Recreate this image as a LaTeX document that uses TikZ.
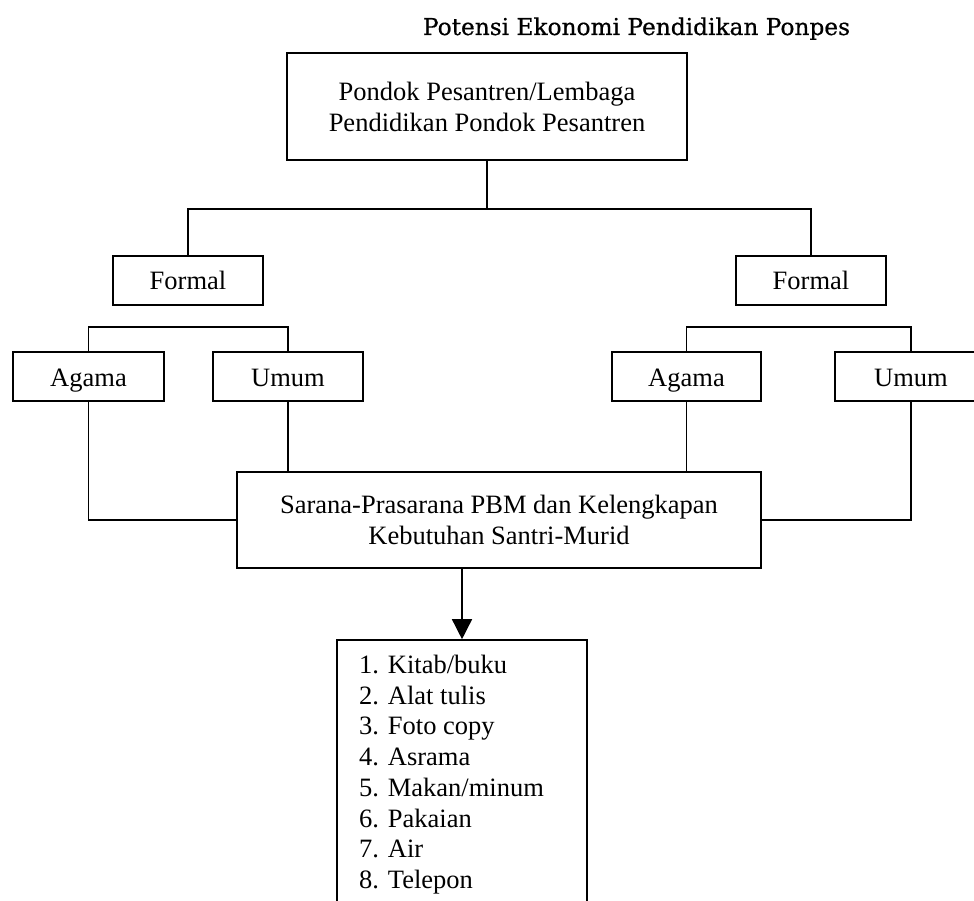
\documentclass[tikz,border=0pt]{standalone}
\usepackage{fontspec}
\setmainfont{Liberation Serif}
\newfontfamily\titlefont[FakeBold=0.6]{DejaVu Serif}
\usetikzlibrary{arrows.meta}
\begin{document}
\begin{tikzpicture}[x=1pt,y=-1pt,
  box/.style={draw,line width=1.6pt,inner sep=0pt,align=center,
    font=\fontsize{26.5}{31}\selectfont},
  one/.style={text height=21pt,text depth=2pt},
  conn/.style={line width=1.5pt}]
\useasboundingbox (0,0) rectangle (974,901);
\node[anchor=base,inner sep=0pt] (title) at (636.5,35)
  {\resizebox{427pt}{!}{\titlefont Potensi Ekonomi Pendidikan Ponpes}};
\node[box,minimum width=400pt,minimum height=107pt] (top) at (487,106.5)
  {Pondok Pesantren/Lembaga\\Pendidikan Pondok Pesantren};
\node[box,one,minimum width=150pt,minimum height=49pt] (fL) at (188,280.5) {Formal};
\node[box,one,minimum width=150pt,minimum height=49pt] (fR) at (811,280.5) {Formal};
\node[box,one,minimum width=151pt,minimum height=49pt] (aL) at (88.5,376.5) {Agama};
\node[box,one,minimum width=150pt,minimum height=49pt] (uL) at (288,376.5) {Umum};
\node[box,one,minimum width=149pt,minimum height=49pt] (aR) at (686.5,376.5) {Agama};
\node[box,one,minimum width=152pt,minimum height=49pt] (uR) at (911,376.5) {Umum};
\node[box,minimum width=524pt,minimum height=96pt] (sar) at (499,520)
  {Sarana-Prasarana PBM dan Kelengkapan\\Kebutuhan Santri-Murid};
\node[box,minimum width=250pt,minimum height=320pt] (lst) at (462,800) {};
\node[anchor=north west,inner sep=0pt,align=left,
  font=\fontsize{26.5}{30.7}\selectfont] (items) at (359,655)
  {1. Kitab/buku\\2. Alat tulis\\3. Foto copy\\4. Asrama\\5. Makan/minum\\6. Pakaian\\7. Air\\8. Telepon};
% connectors
\draw[conn] (top.south) -- ++(0,48) coordinate (j1);
\draw[conn] (fL.north) |- (j1) -| (fR.north);
\draw[conn] (aL.north) -- ++(0,-24) -| (uL.north);
\draw[conn] (aR.north) -- ++(0,-24) -| (uR.north);
\draw[conn] (aL.south) |- (sar.west);
\draw[conn] (uR.south) |- (sar.east);
\draw[conn] (uL.south) -- (uL.south |- sar.north);
\draw[conn] (aR.south) -- (aR.south |- sar.north);
\draw[conn,-{Triangle[width=20pt,length=20pt]}] (sar.south -| lst.north) -- (lst.north);
\end{tikzpicture}
\end{document}
